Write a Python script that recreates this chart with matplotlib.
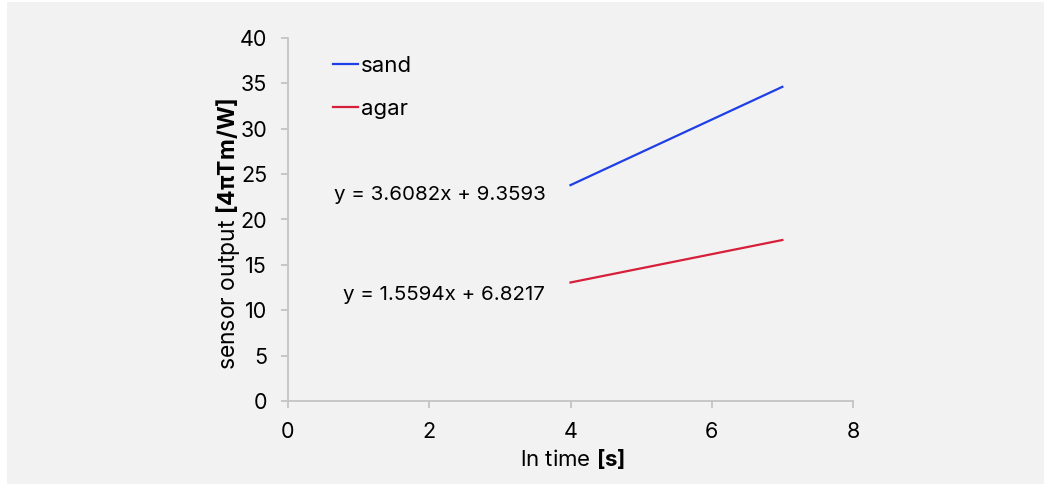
import matplotlib
matplotlib.use("Agg")
import matplotlib.pyplot as plt
from matplotlib.patches import Rectangle

# Data
x_time = [4, 7]
sand = [23.79, 34.62]
agar = [13.06, 17.74]
series_names = ["sand", "agar"]
eq_sand = "y = 3.6082x + 9.3593"
eq_agar = "y = 1.5594x + 6.8217"
x_ticks = [0, 2, 4, 6, 8]
y_ticks = [0, 5, 10, 15, 20, 25, 30, 35, 40]

plt.rcParams["font.family"] = ["Inter", "DejaVu Sans"]
plt.rcParams["mathtext.fontset"] = "custom"
plt.rcParams["mathtext.rm"] = "Inter"
plt.rcParams["mathtext.bf"] = "Inter:bold"

W, H = 1046, 486
fig = plt.figure(figsize=(W / 100, H / 100), dpi=100, facecolor="white")
fig.patches.append(Rectangle((7 / W, 2 / H), (1044 - 7) / W, (484 - 2) / H,
                             transform=fig.transFigure, facecolor="#f2f2f2",
                             edgecolor="none", zorder=-10))

ax = fig.add_axes([288 / W, 1 - 401 / H, (853 - 288) / W, (401 - 38) / H])
ax.set_facecolor("none")
ax.set_zorder(1)

ax.plot(x_time, sand, color="#1f3fe6", lw=1.6, label=series_names[0])
ax.plot(x_time, agar, color="#d61f3a", lw=1.6, label=series_names[1])

ax.set_xlim(0, 8)
ax.set_ylim(0, 40)
ax.set_xticks(x_ticks)
ax.set_yticks(y_ticks)

for s in ["top", "right"]:
    ax.spines[s].set_visible(False)
for s in ["left", "bottom"]:
    ax.spines[s].set_color("#c4c4c4")
    ax.spines[s].set_linewidth(1.3)

ax.tick_params(axis="both", colors="#c4c4c4", labelcolor="black",
               labelsize=15.5, width=1.3)
ax.tick_params(axis="x", length=5, pad=10)
ax.tick_params(axis="y", length=5, pad=10)

ax.set_xlabel(r"ln time $\mathbf{[s]}$", fontsize=16)
ax.xaxis.set_label_coords((573 - 288) / 565, -(447 - 401) / 363)
ax.set_ylabel(r"sensor output $\mathbf{[4πTm/W]}$", fontsize=16.5)
ax.yaxis.set_label_coords(-(288 - 242) / 565, (401 - 234) / 363)

ax.text(2.15, 22.7, eq_sand, fontsize=14.8, ha="center", va="center")
ax.text(2.21, 11.7, eq_agar, fontsize=14.8, ha="center", va="center")

leg = ax.legend(loc="upper left", bbox_to_anchor=((333 - 288) / 565, (401 - 56) / 363),
                frameon=False, fontsize=16, handlelength=1.12, handletextpad=0.12,
                labelspacing=1.03, borderpad=0, borderaxespad=0)

fig.savefig("out.png", dpi=100, facecolor="white")
